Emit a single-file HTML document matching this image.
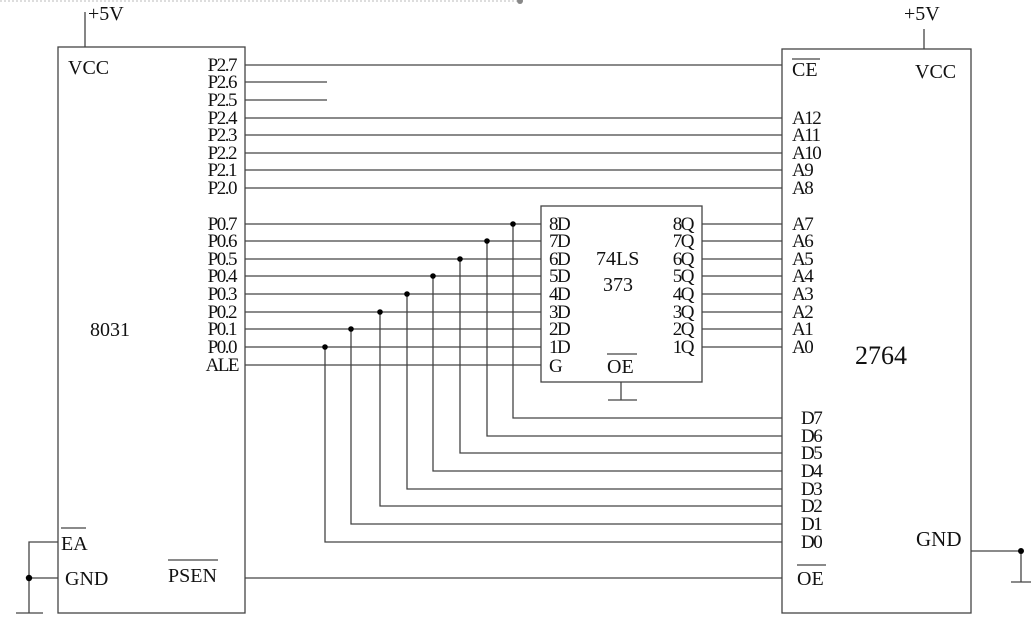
<!DOCTYPE html>
<html><head><meta charset="utf-8"><style>
html,body{margin:0;padding:0;background:#fff;}
svg{display:block;}
text{font-family:"Liberation Serif",serif;fill:#111;}
.p{font-size:19px;letter-spacing:-1.5px;}
.b{font-size:20px;letter-spacing:0;}
</style></head><body>
<svg width="1034" height="622" viewBox="0 0 1034 622" xmlns="http://www.w3.org/2000/svg">
<line x1="0" y1="1" x2="520" y2="1" stroke="#bbb" stroke-dasharray="2,2"/>
<circle cx="520" cy="1" r="3" fill="#888"/>
<g stroke="#444" stroke-width="1.3" fill="none">
<rect x="58" y="47" width="187" height="566"/>
<rect x="782" y="49" width="189" height="564"/>
<rect x="541" y="206" width="161" height="176"/>
<line x1="85" y1="12" x2="85" y2="47"/>
<line x1="924" y1="29" x2="924" y2="49"/>
<line x1="245" y1="65" x2="782" y2="65"/>
<line x1="245" y1="82" x2="327" y2="82"/>
<line x1="245" y1="100" x2="327" y2="100"/>
<line x1="245" y1="118" x2="782" y2="118"/>
<line x1="245" y1="135" x2="782" y2="135"/>
<line x1="245" y1="153" x2="782" y2="153"/>
<line x1="245" y1="170" x2="782" y2="170"/>
<line x1="245" y1="188" x2="782" y2="188"/>
<line x1="245" y1="224" x2="541" y2="224"/>
<line x1="245" y1="241" x2="541" y2="241"/>
<line x1="245" y1="259" x2="541" y2="259"/>
<line x1="245" y1="276" x2="541" y2="276"/>
<line x1="245" y1="294" x2="541" y2="294"/>
<line x1="245" y1="312" x2="541" y2="312"/>
<line x1="245" y1="329" x2="541" y2="329"/>
<line x1="245" y1="347" x2="541" y2="347"/>
<line x1="245" y1="365" x2="541" y2="365"/>
<line x1="702" y1="224" x2="782" y2="224"/>
<line x1="702" y1="241" x2="782" y2="241"/>
<line x1="702" y1="259" x2="782" y2="259"/>
<line x1="702" y1="276" x2="782" y2="276"/>
<line x1="702" y1="294" x2="782" y2="294"/>
<line x1="702" y1="312" x2="782" y2="312"/>
<line x1="702" y1="329" x2="782" y2="329"/>
<line x1="702" y1="347" x2="782" y2="347"/>
<polyline points="513,224 513,418 782,418"/>
<polyline points="487,241 487,436 782,436"/>
<polyline points="460,259 460,453 782,453"/>
<polyline points="433,276 433,471 782,471"/>
<polyline points="407,294 407,489 782,489"/>
<polyline points="380,312 380,506 782,506"/>
<polyline points="351,329 351,524 782,524"/>
<polyline points="325,347 325,542 782,542"/>
<line x1="621" y1="382" x2="621" y2="400"/>
<line x1="608" y1="400" x2="637" y2="400"/>
<line x1="245" y1="578" x2="782" y2="578"/>
<polyline points="58,542 29,542 29,613"/>
<line x1="29" y1="578" x2="58" y2="578"/>
<line x1="16" y1="613" x2="43" y2="613"/>
<polyline points="971,551 1021,551 1021,582"/>
<line x1="1011" y1="582" x2="1031" y2="582"/>
<line x1="792" y1="59" x2="820" y2="59"/>
<line x1="607" y1="354" x2="637" y2="354"/>
<line x1="61" y1="528" x2="86" y2="528"/>
<line x1="168" y1="560" x2="218" y2="560"/>
<line x1="797" y1="565" x2="826" y2="565"/>
</g>
<g fill="#000">
<circle cx="513" cy="224" r="2.8"/><circle cx="487" cy="241" r="2.8"/>
<circle cx="460" cy="259" r="2.8"/><circle cx="433" cy="276" r="2.8"/>
<circle cx="407" cy="294" r="2.8"/><circle cx="380" cy="312" r="2.8"/>
<circle cx="351" cy="329" r="2.8"/><circle cx="325" cy="347" r="2.8"/>
<circle cx="29" cy="578" r="3.2"/><circle cx="1021" cy="551" r="3"/>
</g>
<g class="p">
<text x="88" y="20" class="b">+5V</text>
<text x="904" y="20" class="b">+5V</text>
<text x="68" y="74" class="b">VCC</text>
<text x="915" y="78" class="b">VCC</text>
<g text-anchor="end">
<text x="236" y="71">P2.7</text><text x="236" y="88">P2.6</text><text x="236" y="106">P2.5</text>
<text x="236" y="124">P2.4</text><text x="236" y="141">P2.3</text><text x="236" y="159">P2.2</text>
<text x="236" y="176">P2.1</text><text x="236" y="194">P2.0</text>
<text x="236" y="230">P0.7</text><text x="236" y="247">P0.6</text><text x="236" y="265">P0.5</text>
<text x="236" y="282">P0.4</text><text x="236" y="300">P0.3</text><text x="236" y="318">P0.2</text>
<text x="236" y="335">P0.1</text><text x="236" y="353">P0.0</text>
<text x="238" y="371">ALE</text>
<text x="693" y="230">8Q</text><text x="693" y="247">7Q</text><text x="693" y="265">6Q</text>
<text x="693" y="282">5Q</text><text x="693" y="300">4Q</text><text x="693" y="318">3Q</text>
<text x="693" y="335">2Q</text><text x="693" y="353">1Q</text>
</g>
<text x="549" y="230">8D</text><text x="549" y="247">7D</text><text x="549" y="265">6D</text>
<text x="549" y="282">5D</text><text x="549" y="300">4D</text><text x="549" y="318">3D</text>
<text x="549" y="335">2D</text><text x="549" y="353">1D</text><text x="549" y="372">G</text>
<text x="607" y="373" class="b">OE</text>
<text x="596" y="265" class="b">74LS</text>
<text x="603" y="291" class="b">373</text>
<text x="792" y="76" class="b">CE</text>
<text x="792" y="124">A12</text><text x="792" y="141">A11</text><text x="792" y="159">A10</text>
<text x="792" y="176">A9</text><text x="792" y="194">A8</text>
<text x="792" y="230">A7</text><text x="792" y="247">A6</text><text x="792" y="265">A5</text>
<text x="792" y="282">A4</text><text x="792" y="300">A3</text><text x="792" y="318">A2</text>
<text x="792" y="335">A1</text><text x="792" y="353">A0</text>
<text x="801" y="424">D7</text><text x="801" y="442">D6</text><text x="801" y="459">D5</text>
<text x="801" y="477">D4</text><text x="801" y="495">D3</text><text x="801" y="512">D2</text>
<text x="801" y="530">D1</text><text x="801" y="548">D0</text>
<text x="797" y="585" class="b">OE</text>
<text x="916" y="546" class="b" style="font-size:21px">GND</text>
<text x="61" y="550" class="b">EA</text>
<text x="65" y="585" class="b">GND</text>
<text x="168" y="582" class="b">PSEN</text>
<text x="90" y="336" class="b">8031</text>
<text x="855" y="364" class="b" style="font-size:26px">2764</text>
</g>
</svg>
</body></html>
